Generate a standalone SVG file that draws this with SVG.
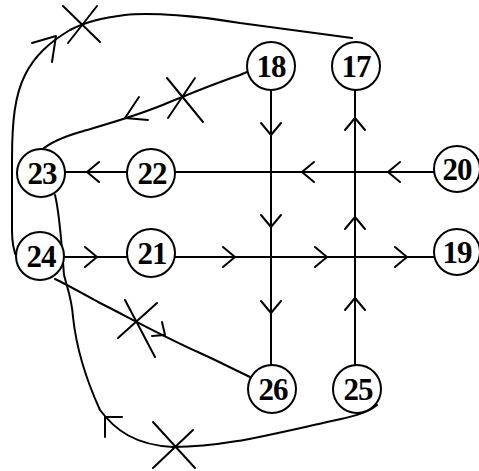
<svg xmlns="http://www.w3.org/2000/svg" width="479" height="471" viewBox="0 0 479 471">
<style>
.ln{fill:none;stroke:#000;stroke-width:2;stroke-linecap:round;stroke-linejoin:round}
.nd{fill:#fff;stroke:#000;stroke-width:2}
.lb{font-family:"Liberation Serif","Times New Roman",serif;font-size:31px;font-weight:bold;text-anchor:middle;fill:#000;letter-spacing:-1px}
</style>
<defs>
<path id="arr" class="ln" d="M-12,-10 L0,0 L-12,10"/>
</defs>
<rect width="479" height="471" fill="#fff"/>
<g id="connectors">
<path class="ln" d="M65,172 L434,172"/>
<path class="ln" d="M64,257 L434,257"/>
<path class="ln" d="M271,90 L271,365"/>
<path class="ln" d="M355,365 L355,90"/>
<path class="ln" d="M352,38 L240,23 C200,16 150,12 125,15 C100,18 85,22 70,30 C50,42 35,55 25,75 C15,95 12,120 12,160 L12,230 C12,245 14,252 17,258"/>
<path class="ln" d="M247,72 L240,75 C210,85 180,98 160,106 C130,118 100,126 80,132 C60,138 50,143 43,149"/>
<path class="ln" d="M55,279 C62,282 80,292 100,303 C130,318 160,335 200,353 C220,362 235,370 250,377"/>
<path class="ln" d="M55,195 C60,215 62,250 64,275 C68,290 72,300 73,317 C76,345 84,375 100,410 C115,430 135,445 173,447 C220,447 260,437 323,423 C345,418 365,415 377,405"/>
<use href="#arr" transform="translate(271,135) rotate(90)"/>
<use href="#arr" transform="translate(271,227) rotate(90)"/>
<use href="#arr" transform="translate(271,313) rotate(90)"/>
<use href="#arr" transform="translate(355,118) rotate(-90)"/>
<use href="#arr" transform="translate(355,217) rotate(-90)"/>
<use href="#arr" transform="translate(355,298) rotate(-90)"/>
<use href="#arr" transform="translate(87,172) rotate(180)"/>
<use href="#arr" transform="translate(302,172) rotate(180)"/>
<use href="#arr" transform="translate(388,172) rotate(180)"/>
<use href="#arr" transform="translate(97,257)"/>
<use href="#arr" transform="translate(235,257)"/>
<use href="#arr" transform="translate(327,257)"/>
<use href="#arr" transform="translate(407,257)"/>
<path class="ln" d="M32,43 L56,36 L52,62"/>
<path class="ln" d="M139,97 L125,118 L148,120"/>
<path class="ln" d="M162,322 L165,335 L152,336"/>
<path class="ln" d="M105,437 L105,417 L122,417"/>
<path class="ln" d="M63,6 L100,42 M97,6 L68,43"/>
<path class="ln" d="M167,78 L203,122 M195,78 L168,118"/>
<path class="ln" d="M125,300 L155,357 M157,303 L118,338"/>
<path class="ln" d="M153,422 L195,468 M193,430 L153,468"/>
</g>
<g id="n18"><circle class="nd" cx="271" cy="66" r="24"/><text class="lb" x="271" y="77">18</text></g>
<g id="n17"><circle class="nd" cx="356" cy="66" r="24"/><text class="lb" x="356" y="77">17</text></g>
<g id="n20"><circle class="nd" cx="457" cy="169" r="23"/><text class="lb" x="457" y="180">20</text></g>
<g id="n19"><circle class="nd" cx="457" cy="252" r="23"/><text class="lb" x="457" y="263">19</text></g>
<g id="n23"><circle class="nd" cx="41" cy="173" r="24"/><text class="lb" x="42" y="184">23</text></g>
<g id="n22"><circle class="nd" cx="151" cy="173" r="24"/><text class="lb" x="152" y="184">22</text></g>
<g id="n24"><circle class="nd" cx="40" cy="256" r="24"/><text class="lb" x="41" y="267">24</text></g>
<g id="n21"><circle class="nd" cx="151" cy="253" r="24"/><text class="lb" x="152" y="264">21</text></g>
<g id="n26"><circle class="nd" cx="272" cy="389" r="24"/><text class="lb" x="273" y="400">26</text></g>
<g id="n25"><circle class="nd" cx="357" cy="389" r="24"/><text class="lb" x="358" y="400">25</text></g>
</svg>
